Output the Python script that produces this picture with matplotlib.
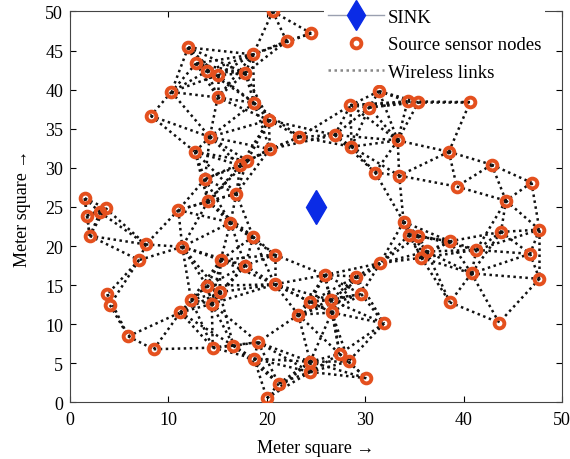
import numpy as np
import matplotlib
matplotlib.use('Agg')
import matplotlib.pyplot as plt
from matplotlib.lines import Line2D

plt.rcParams['font.family'] = ['Liberation Serif', 'DejaVu Serif']

# sensor node positions (meters)
node_x = [20.6, 24.5, 22.0, 12.0, 18.6, 12.8, 13.95, 15.0, 17.8, 10.3, 15.0, 18.7, 8.2, 20.2,
          14.2, 23.3, 12.7, 20.3, 18.0, 17.3, 13.7, 1.5, 16.9, 14.0, 11.0, 1.7, 3.6, 3.05, 2.0,
          16.3, 18.6, 7.7, 11.4, 7.0, 20.8, 15.3, 17.8,
          26.9, 28.6, 33.3, 38.5, 42.85, 31.0, 33.45, 46.9, 39.3, 44.3, 33.9, 34.45, 35.4, 38.6,
          43.8, 47.7, 36.25, 35.7, 41.3, 46.75, 31.5, 40.8, 25.9, 29.1, 47.7, 31.4, 28.5, 30.4,
          34.3, 35.4, 40.65,
          3.8, 4.05, 5.9, 8.5, 11.2, 12.3, 13.9, 15.2, 14.4, 20.8, 24.4, 23.2, 14.5, 16.6, 19.1,
          18.7, 24.4, 24.4, 21.2, 20.0, 26.5, 26.6, 29.6, 31.9, 38.6, 43.6, 27.4, 28.3, 30.1]
node_y = [50.0, 47.2, 46.2, 45.4, 44.5, 43.35, 42.4, 41.85, 42.1, 39.7, 39.0, 38.3, 36.65, 36.1,
          33.95, 33.95, 32.05, 32.4, 30.9, 30.3, 28.55, 26.1, 26.7, 25.7, 24.6, 23.9, 24.85, 24.3, 21.3,
          23.0, 21.2, 20.2, 19.9, 18.2, 18.9, 18.2, 17.5,
          34.2, 32.7, 33.5, 32.05, 30.4, 29.4, 29.0, 28.1, 27.6, 25.8, 23.1, 21.4, 21.3, 20.6,
          21.8, 22.1, 19.3, 18.5, 19.5, 19.0, 17.8, 16.5, 16.3, 16.1, 15.8, 39.8, 38.0, 37.7,
          38.5, 38.4, 38.4,
          13.85, 12.45, 8.45, 6.8, 11.5, 13.1, 14.9, 14.1, 12.6, 15.1, 12.85, 11.2, 7.0, 7.25, 7.7,
          5.6, 5.2, 3.9, 2.4, 0.55, 13.1, 11.5, 13.85, 10.1, 12.8, 10.2, 6.2, 5.25, 3.1]
sink_x, sink_y = 25.0, 25.0
comm_range = 7.0  # radio range used for the wireless links

node_color = '#E4501E'
sink_color = '#0A2BE6'
fs = 13

fig = plt.figure(figsize=(5.7, 4.6), dpi=100)
ax = fig.add_axes([0.123, 0.123, 0.863, 0.85])

xs = np.array(node_x)
ys = np.array(node_y)
for i in range(len(xs)):
    for j in range(i + 1, len(xs)):
        if np.hypot(xs[i] - xs[j], ys[i] - ys[j]) <= comm_range:
            ax.plot([xs[i], xs[j]], [ys[i], ys[j]], color='#111111', lw=1.8,
                    linestyle=(0, (1, 1.4)), zorder=1)

ax.plot(xs, ys, 'o', ms=7, mfc='none', mec=node_color, mew=2.8, zorder=3)
ax.plot(sink_x, sink_y, 'd', ms=17, color=sink_color, zorder=3)

ax.set_xlim(0, 50)
ax.set_ylim(0, 50)
ax.set_xticks(range(0, 51, 10))
ax.set_yticks(range(0, 51, 5))
ax.tick_params(direction='in', top=True, right=True, labelsize=fs, length=4)
ax.tick_params(axis='x', pad=6)
ax.tick_params(axis='y', pad=5)
ax.set_xlabel('Meter square \u2192', fontsize=fs, labelpad=8)
ax.set_ylabel('Meter square \u2192', fontsize=fs, labelpad=10)
for s in ax.spines.values():
    s.set_color('#444444')

handles = [
    Line2D([], [], color='#9aa0b0', lw=1, marker='d', ms=15, mfc=sink_color, mec=sink_color),
    Line2D([], [], linestyle='none', marker='o', ms=7, mfc='white', mec=node_color, mew=2.8),
    Line2D([], [], color='#888888', lw=1.8, linestyle=(0, (1, 1.4))),
]
leg = ax.legend(handles, ['SINK', 'Source sensor nodes', 'Wireless links'],
                loc='upper right', bbox_to_anchor=(0.985, 1.04), fontsize=13.5,
                frameon=True, facecolor='white', edgecolor='none', framealpha=1,
                handlelength=3.0, handletextpad=0.2, labelspacing=0.55,
                borderpad=0.2, fancybox=False)
leg.set_zorder(5)

fig.savefig('out.png', dpi=100)
